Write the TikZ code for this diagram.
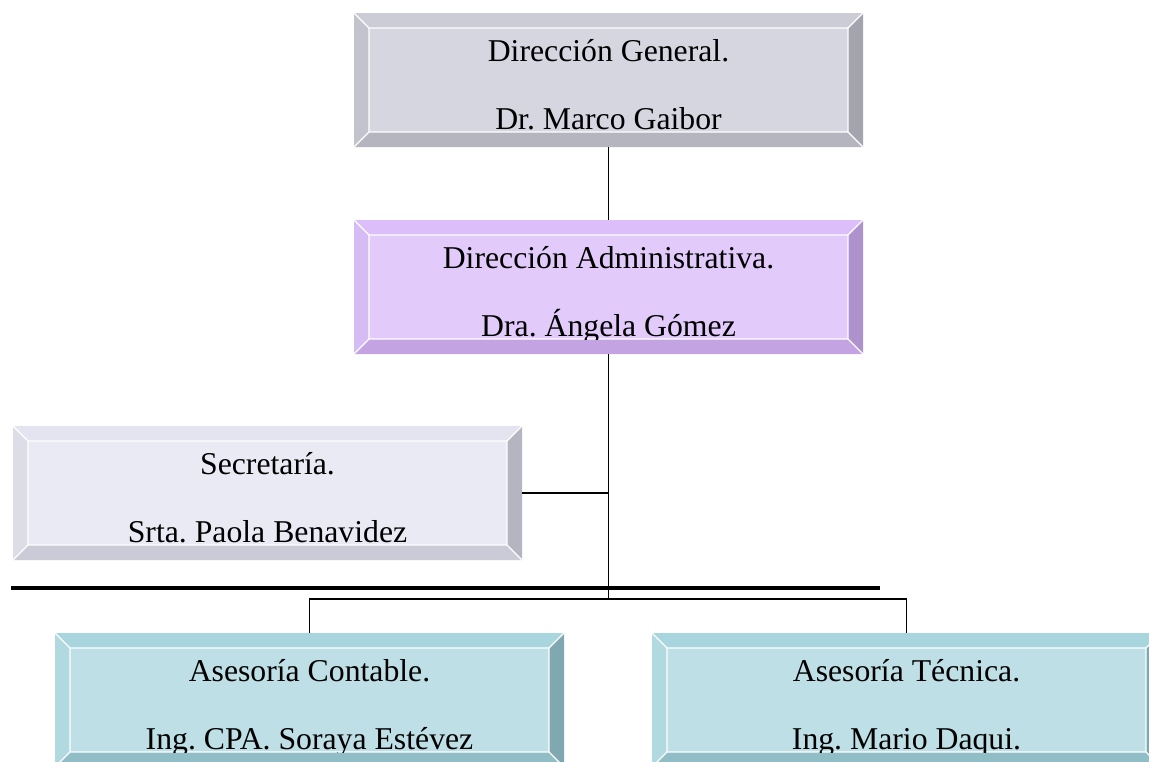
\documentclass[tikz,border=0pt]{standalone}
\usepackage{fontspec}
\setmainfont{Liberation Serif}
\usetikzlibrary{calc}
\frenchspacing
\definecolor{gface}{HTML}{D6D6E0}
\definecolor{gtop}{HTML}{CCCCD6}
\definecolor{gleft}{HTML}{C3C3CD}
\definecolor{gright}{HTML}{A4A4AE}
\definecolor{gbot}{HTML}{B5B5BF}
\definecolor{pface}{HTML}{E2CBFB}
\definecolor{ptop}{HTML}{DCBEFA}
\definecolor{pleft}{HTML}{D5BCF5}
\definecolor{pright}{HTML}{AE92CC}
\definecolor{pbot}{HTML}{C4A3E3}
\definecolor{sface}{HTML}{EAEAF4}
\definecolor{stop}{HTML}{E4E4F0}
\definecolor{sleft}{HTML}{DDDDE8}
\definecolor{sright}{HTML}{B5B5C1}
\definecolor{sbot}{HTML}{CBCBD7}
\definecolor{tface}{HTML}{BDDFE5}
\definecolor{ttop}{HTML}{A9D6DE}
\definecolor{tleft}{HTML}{B1D9E0}
\definecolor{tright}{HTML}{80A8B0}
\definecolor{tbot}{HTML}{91BDC7}
\tikzset{
  bx/.style={rectangle, inner sep=0pt, outer sep=0pt, minimum width=381.75pt, minimum height=100.5pt},
  txt/.style={inner sep=0pt, anchor=base, font=\fontsize{23.8}{28}\selectfont\frenchspacing},
  conn/.style={line width=1.4pt, black},
  thick rule/.style={line width=3pt, black},
  bevel edge/.style={white, line width=0.9pt}
}
\newcommand\bvbox[6]{%
  \node[bx] (#1) at (#2,#3) {};
  \coordinate (#1-a) at ($(#1.north west)+(15,15)$);
  \coordinate (#1-b) at ($(#1.north east)+(-15,15)$);
  \coordinate (#1-c) at ($(#1.south east)+(-15,-15)$);
  \coordinate (#1-d) at ($(#1.south west)+(15,-15)$);
  \fill[#4top] (#1.north west) -- (#1.north east) -- (#1-b) -- (#1-a) -- cycle;
  \fill[#4bot] (#1.south west) -- (#1.south east) -- (#1-c) -- (#1-d) -- cycle;
  \fill[#4left] (#1.north west) -- (#1-a) -- (#1-d) -- (#1.south west) -- cycle;
  \fill[#4right] (#1.north east) -- (#1-b) -- (#1-c) -- (#1.south east) -- cycle;
  \fill[#4face] (#1-a) rectangle (#1-c);
  \draw[bevel edge] (#1-a) rectangle (#1-c)
    (#1.north west) -- (#1-a) (#1.north east) -- (#1-b)
    (#1.south east) -- (#1-c) (#1.south west) -- (#1-d);
  \begin{scope}
    \clip (#1-a) rectangle (#1-c);
    \node[txt] (#1-l1) at ($(#1.north)+(0,48)$) {#5};
    \node[txt] (#1-l2) at ($(#1.north)+(0,116)$) {#6};
  \end{scope}}
\begin{document}
\begin{tikzpicture}[x=0.75pt,y=-0.75pt]
\useasboundingbox (0,0) rectangle (1149,761);
\clip (0,0) rectangle (1149,761);
\fill[white] (0,0) rectangle (1149,761);
\bvbox{gen}{608.5}{80}{g}{Dirección General.}{Dr. Marco Gaibor}
\bvbox{adm}{608.5}{287}{p}{Dirección Administrativa.}{Dra. Ángela Gómez}
\bvbox{sec}{267.5}{493}{s}{Secretaría.}{Srta. Paola Benavidez}
\bvbox{con}{309.5}{700}{t}{Asesoría Contable.}{Ing. CPA. Soraya Estévez}
\bvbox{tec}{906.5}{700}{t}{Asesoría Técnica.}{Ing. Mario Daqui.}
\coordinate (j) at (608.5,599);
\coordinate (rl) at (11,588);
\coordinate (rr) at (880,588);
\draw[conn] (gen.south) -- (adm.north);
\draw[conn] (adm.south) -- (j);
\draw[conn] (sec.east) -- (sec.east -| adm.south);
\draw[thick rule] (rl) -- (rr);
\draw[conn] (con.north) |- (j) -| (tec.north);
\end{tikzpicture}
\end{document}
